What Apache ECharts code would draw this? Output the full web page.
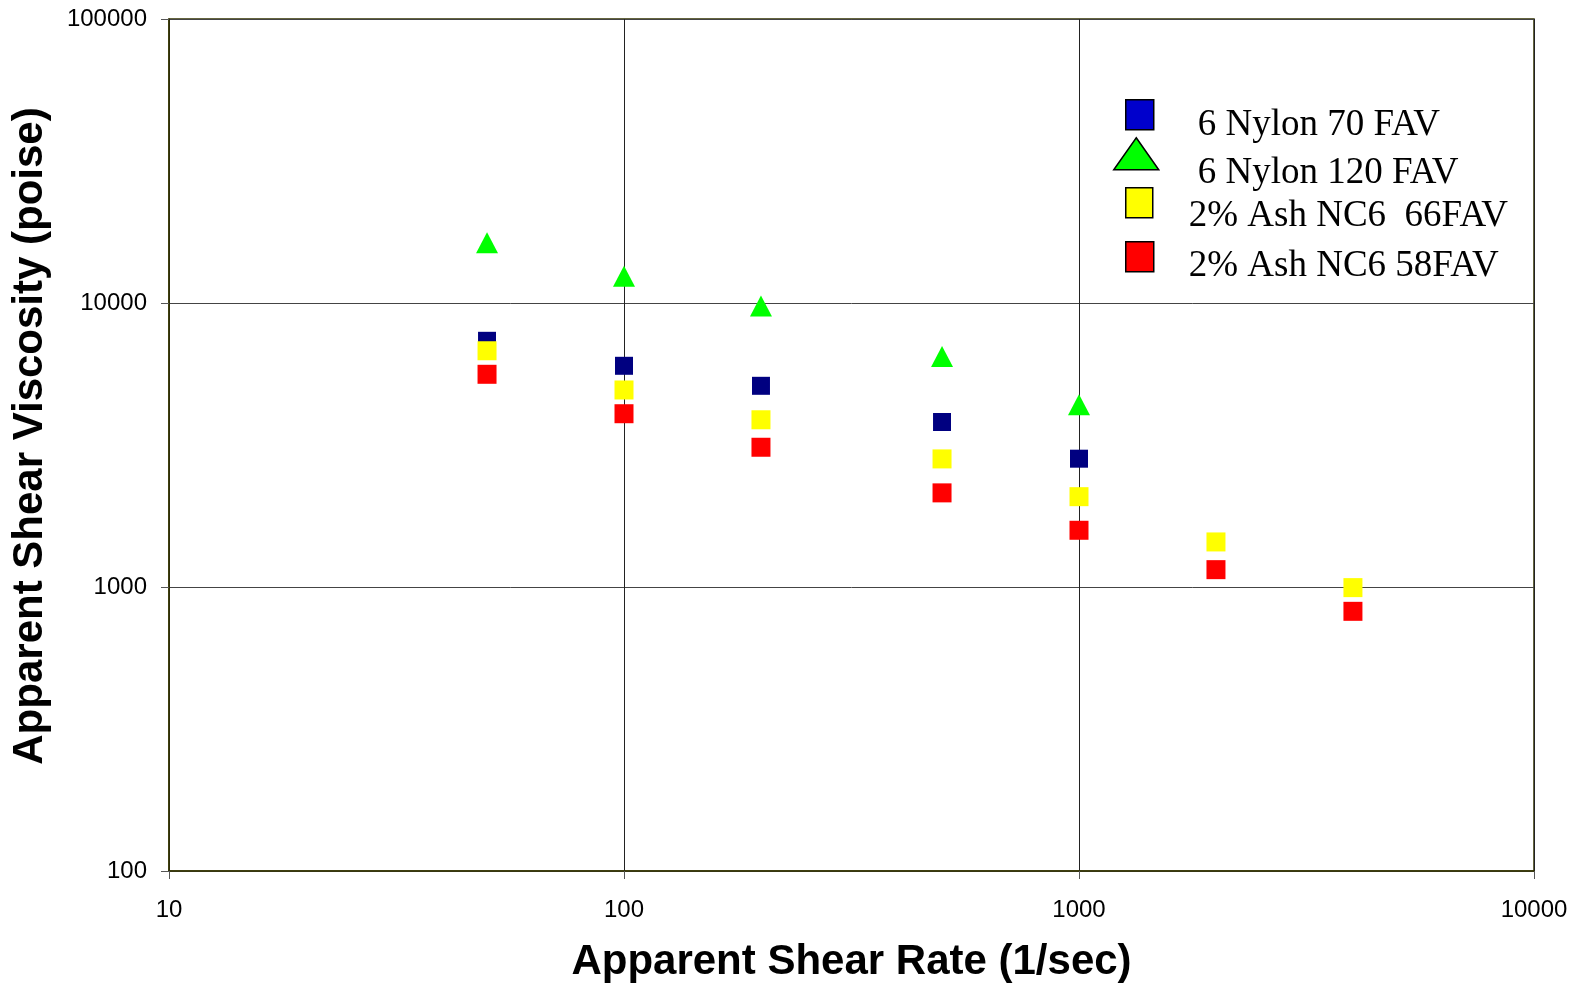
<!DOCTYPE html>
<html>
<head>
<meta charset="utf-8">
<script src="https://cdn.jsdelivr.net/npm/echarts@6/dist/echarts.min.js"></script>
<style>
html,body{margin:0;padding:0;background:#fff;}
#chart{width:1576px;height:985px;}
</style>
</head>
<body>
<div id="chart"></div>
<script>
// Shear rates (1/sec)
const rates = [50, 100, 200, 500, 1000, 2000, 4000];
// Apparent shear viscosity (poise)
const nylon70 = [7360, 6010, 5110, 3810, 2830];
const nylon120 = [16300, 12430, 9760, 6480, 4380];
const ash66 = [6790, 4940, 3880, 2825, 2080, 1441, 995];
const ash58 = [5610, 4075, 3105, 2145, 1584, 1151, 821];
const seriesNames = ['6 Nylon 70 FAV', '6 Nylon 120 FAV', '2% Ash NC6  66FAV', '2% Ash NC6 58FAV'];
const xTicks = [10, 100, 1000, 10000];
const yTicks = [100, 1000, 10000, 100000];

function pairs(vals){ return vals.map((v,i)=>[rates[i], v]); }

const chart = echarts.init(document.getElementById('chart'), null, {renderer:'canvas'});
function mkLegend(name, icon, left, top, w, h, padTop, padLeft, color){
  return {
    data:[{name:name, icon:icon, itemStyle:{color:color, borderColor:'#000', borderWidth:1.5, opacity:1}}],
    left:left, top:top, padding:0, itemWidth:w, itemHeight:h,
    selectedMode:false,
    formatter:'{t|{name}}',
    textStyle:{
      fontFamily:'Liberation Serif', fontSize:37, color:'#000',
      rich:{t:{fontFamily:'Liberation Serif', fontSize:37, color:'#000', padding:[padTop,0,0,padLeft]}}
    }
  };
}
function plain(v){ return String(v); }
chart.setOption({
  animation:false,
  backgroundColor:'#fff',
  grid:{left:169, right:42, top:19, bottom:114, outerBoundsMode:'none', containLabel:false,
        show:true, borderColor:'#333300', borderWidth:1.5, backgroundColor:'#fff'},
  legend:[
    mkLegend(seriesNames[0], 'rect', 1125, 99, 28, 30, 22, 39, '#0000cc'),
    mkLegend(seriesNames[1], 'triangle', 1113, 137, 45, 32, 40, 34, '#00ff00'),
    mkLegend(seriesNames[2], 'rect', 1125, 187, 27, 30, 28, 31, '#ffff00'),
    mkLegend(seriesNames[3], 'rect', 1125, 241, 28, 30, 20, 30, '#ff0000')
  ],
  xAxis:{
    type:'log', logBase:10, min:xTicks[0], max:xTicks[xTicks.length-1],
    name:'Apparent Shear Rate (1/sec)', nameLocation:'middle', nameGap:70,
    nameTextStyle:{fontFamily:'Liberation Sans', fontWeight:'bold', fontSize:42, color:'#000'},
    axisLine:{show:true, lineStyle:{color:'#333300', width:1.5}},
    axisTick:{show:true, inside:false, length:8, lineStyle:{color:'#555'}},
    minorTick:{show:false},
    axisLabel:{fontFamily:'Liberation Sans', fontSize:24, color:'#000', margin:27, formatter:plain},
    splitLine:{show:true, lineStyle:{color:'#222', width:1}}
  },
  yAxis:{
    type:'log', logBase:10, min:yTicks[0], max:yTicks[yTicks.length-1],
    name:'Apparent Shear Viscosity (poise)', nameLocation:'middle', nameGap:118,
    nameTextStyle:{fontFamily:'Liberation Sans', fontWeight:'bold', fontSize:42, color:'#000', padding:[0,0,0,18]},
    axisLine:{show:true, lineStyle:{color:'#333300', width:1.5}},
    axisTick:{show:true, inside:false, length:8, lineStyle:{color:'#555'}},
    axisLabel:{fontFamily:'Liberation Sans', fontSize:24, color:'#000', margin:22, formatter:plain},
    splitLine:{show:true, lineStyle:{color:'#444', width:1}}
  },
  series:[
    {name:seriesNames[0], type:'scatter', data:pairs(nylon70), symbol:'rect', symbolSize:18, itemStyle:{color:'#000080', opacity:1}},
    {name:seriesNames[1], type:'scatter', data:pairs(nylon120), symbol:'triangle', symbolSize:[22,21], itemStyle:{color:'#00ff00', opacity:1}},
    {name:seriesNames[2], type:'scatter', data:pairs(ash66), symbol:'rect', symbolSize:19, itemStyle:{color:'#ffff00', opacity:1}},
    {name:seriesNames[3], type:'scatter', data:pairs(ash58), symbol:'rect', symbolSize:19, itemStyle:{color:'#ff0000', opacity:1}}
  ]
});
</script>
</body>
</html>
